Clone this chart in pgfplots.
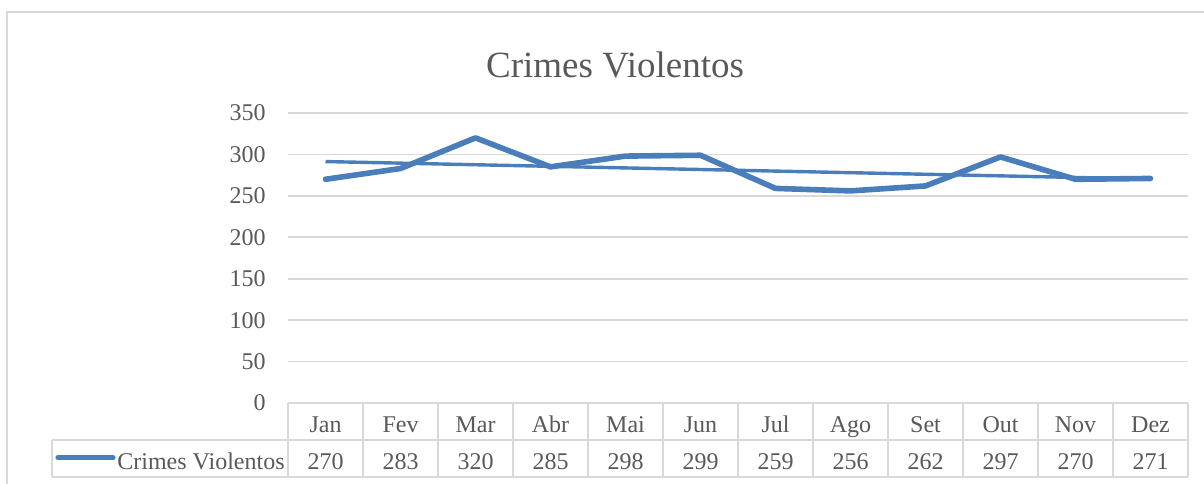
\documentclass[border=0pt]{standalone}
\usepackage{fontspec}
\setmainfont{Liberation Serif}
\usepackage{pgfplots}
\pgfplotsset{compat=1.18}
\definecolor{linecol}{RGB}{74,126,187}
\definecolor{gridc}{RGB}{217,217,217}
\definecolor{txt}{RGB}{89,89,89}
\begin{document}
\begin{tikzpicture}
\path[use as bounding box] (0,0) rectangle (602pt,-241.5pt);
\draw[gridc, line width=1pt] (3.5pt,-250pt) -- (3.5pt,-6pt) -- (610pt,-6pt);
\node[txt, anchor=base, font=\fontsize{18.5}{22}\selectfont] at (307.5pt,-38.5pt) {Crimes Violentos};
\begin{axis}[
  at={(144pt,-56.5pt)}, anchor=north west,
  width=450pt, height=145pt, scale only axis,
  xmin=0.5, xmax=12.5, ymin=0, ymax=350,
  ytick={0,50,...,350}, xtick=\empty,
  ymajorgrids, grid style={gridc, line width=0.8pt},
  axis line style={draw=none},
  major tick length=0pt,
  /pgf/number format/assume math mode=true,
  yticklabel style={txt, anchor=east, inner sep=0pt, xshift=-11pt, font=\fontsize{12}{14}\selectfont},
  clip=false,
]
\addplot[linecol, line width=2.8pt, line join=round, line cap=round] coordinates {
 (1,270) (2,283) (3,320) (4,285) (5,298) (6,299) (7,259) (8,256) (9,262) (10,297) (11,270) (12,271)};
\addplot[linecol, line width=1.7pt] coordinates {(1,291.4) (12,270.3)};
\end{axis}
% data table
\draw[gridc, line width=1pt] (144pt,-201.5pt) -- (594pt,-201.5pt);
\draw[gridc, line width=1pt] (26pt,-220pt) -- (594pt,-220pt);
\draw[gridc, line width=1pt] (26pt,-238.5pt) -- (594pt,-238.5pt);
\draw[gridc, line width=1pt] (26pt,-220pt) -- (26pt,-238.5pt);
\foreach \k in {0,...,12} {
  \draw[gridc, line width=1pt] ({144pt+37.5pt*\k},-201.5pt) -- ({144pt+37.5pt*\k},-238.5pt);
}
\foreach \m/\v [count=\i] in {Jan/270,Fev/283,Mar/320,Abr/285,Mai/298,Jun/299,Jul/259,Ago/256,Set/262,Out/297,Nov/270,Dez/271} {
  \node[txt, anchor=base, inner sep=0pt, font=\fontsize{12}{14}\selectfont] at ({144pt+37.5pt*\i-18.75pt},-216pt) {\m};
  \node[txt, anchor=base, inner sep=0pt, font=\fontsize{12}{14}\selectfont] at ({144pt+37.5pt*\i-18.75pt},-234.5pt) {\v};
}
\draw[linecol, line width=2.6pt, line cap=round] (29pt,-228.9pt) -- (56.5pt,-228.9pt);
\node[txt, anchor=base west, inner sep=0pt, font=\fontsize{12}{14}\selectfont] at (58.5pt,-234.5pt) {Crimes Violentos};
\end{tikzpicture}
\end{document}
